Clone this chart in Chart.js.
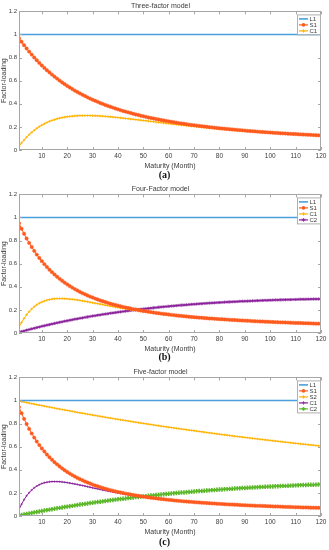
<!DOCTYPE html>
<html>
<head>
<meta charset="utf-8">
<script src="https://cdn.jsdelivr.net/npm/chart.js@4.4.1/dist/chart.umd.min.js"></script>
<style>
  body { margin: 0; background: #fff; }
  #wrap { position: relative; width: 329px; height: 550px; }
  canvas { position: absolute; left: 0; }
  .tag { position: absolute; left: 0; width: 329px; text-align: center;
         font: bold 10px "Liberation Serif", serif; color: #111; }
</style>
</head>
<body>
<div id="wrap">
  <canvas id="chartA" width="329" height="170" style="top:0px"></canvas>
  <div class="tag" style="top:169px">(a)</div>
  <canvas id="chartB" width="329" height="170" style="top:183px"></canvas>
  <div class="tag" style="top:351px">(b)</div>
  <canvas id="chartC" width="329" height="170" style="top:366px"></canvas>
  <div class="tag" style="top:536px">(c)</div>
</div>
<script>
// maturities 1..120 months
const months = Array.from({ length: 120 }, (_, i) => i + 1);
const xTicks = [10, 20, 30, 40, 50, 60, 70, 80, 90, 100, 110, 120];
const yTicks = [0, 0.2, 0.4, 0.6, 0.8, 1, 1.2];

// level factor, flat at 1 from month 1 to 120
const levelMonths = [1, 120];
const levelValues = [1, 1];

// (a) three-factor model
const s1a = [0.968,0.937,0.907,0.879,0.852,0.826,0.801,0.777,0.754,0.732,
0.711,0.691,0.672,0.653,0.635,0.618,0.601,0.585,0.570,0.555,
0.541,0.528,0.514,0.502,0.490,0.478,0.467,0.456,0.445,0.435,
0.426,0.417,0.407,0.399,0.390,0.382,0.374,0.367,0.359,0.352,
0.345,0.338,0.332,0.326,0.320,0.314,0.308,0.303,0.297,0.292,
0.287,0.282,0.277,0.273,0.268,0.264,0.260,0.256,0.252,0.248,
0.244,0.240,0.237,0.233,0.230,0.227,0.223,0.220,0.217,0.214,
0.211,0.209,0.206,0.203,0.201,0.198,0.196,0.193,0.191,0.188,
0.186,0.184,0.182,0.180,0.178,0.176,0.174,0.172,0.170,0.168,
0.166,0.164,0.163,0.161,0.159,0.157,0.156,0.154,0.153,0.151,
0.150,0.148,0.147,0.145,0.144,0.143,0.141,0.140,0.139,0.138,
0.136,0.135,0.134,0.133,0.132,0.131,0.129,0.128,0.127,0.126];
const c1a = [0.032,0.061,0.087,0.111,0.133,0.153,0.171,0.187,0.202,0.215,
0.227,0.238,0.248,0.256,0.263,0.270,0.276,0.280,0.284,0.288,
0.291,0.293,0.295,0.296,0.298,0.298,0.298,0.298,0.298,0.297,
0.296,0.296,0.294,0.293,0.291,0.289,0.287,0.285,0.283,0.281,
0.278,0.276,0.273,0.271,0.268,0.266,0.263,0.261,0.258,0.255,
0.253,0.250,0.247,0.245,0.242,0.239,0.237,0.234,0.231,0.229,
0.226,0.224,0.221,0.219,0.216,0.214,0.211,0.209,0.207,0.205,
0.202,0.200,0.198,0.196,0.193,0.191,0.189,0.187,0.185,0.183,
0.181,0.179,0.178,0.176,0.174,0.172,0.171,0.169,0.167,0.166,
0.164,0.162,0.160,0.159,0.157,0.156,0.154,0.153,0.151,0.150,
0.148,0.147,0.146,0.144,0.143,0.142,0.141,0.139,0.138,0.137,
0.136,0.135,0.134,0.132,0.131,0.130,0.129,0.128,0.127,0.126];

// (b) four-factor model
const s1b = [0.950,0.903,0.859,0.818,0.780,0.744,0.711,0.679,0.650,0.622,
0.596,0.571,0.548,0.527,0.506,0.487,0.469,0.452,0.436,0.421,
0.406,0.393,0.380,0.368,0.356,0.345,0.335,0.325,0.315,0.307,
0.298,0.290,0.282,0.275,0.268,0.261,0.254,0.248,0.242,0.237,
0.231,0.226,0.221,0.216,0.212,0.207,0.203,0.199,0.195,0.191,
0.188,0.184,0.181,0.177,0.174,0.171,0.168,0.165,0.163,0.160,
0.157,0.155,0.152,0.150,0.148,0.145,0.143,0.141,0.139,0.137,
0.135,0.133,0.132,0.130,0.128,0.126,0.125,0.123,0.122,0.120,
0.119,0.117,0.116,0.114,0.113,0.112,0.111,0.109,0.108,0.107,
0.106,0.105,0.103,0.102,0.101,0.100,0.099,0.098,0.097,0.096,
0.095,0.094,0.093,0.092,0.092,0.091,0.090,0.089,0.088,0.087,
0.087,0.086,0.085,0.084,0.084,0.083,0.082,0.081,0.081,0.080];
const c1b = [0.049,0.091,0.127,0.158,0.185,0.208,0.228,0.244,0.258,0.268,
0.277,0.284,0.289,0.294,0.296,0.298,0.298,0.298,0.297,0.296,
0.293,0.292,0.289,0.286,0.282,0.278,0.275,0.271,0.266,0.262,
0.258,0.254,0.250,0.246,0.241,0.237,0.233,0.229,0.225,0.221,
0.217,0.213,0.210,0.206,0.202,0.199,0.196,0.192,0.189,0.186,
0.183,0.180,0.177,0.174,0.171,0.168,0.166,0.163,0.160,0.158,
0.156,0.153,0.151,0.149,0.146,0.144,0.142,0.140,0.138,0.136,
0.135,0.133,0.131,0.129,0.128,0.126,0.124,0.123,0.121,0.120,
0.118,0.117,0.116,0.114,0.113,0.112,0.110,0.109,0.108,0.107,
0.106,0.104,0.103,0.102,0.101,0.100,0.099,0.098,0.097,0.096,
0.095,0.094,0.093,0.092,0.092,0.091,0.090,0.089,0.088,0.087,
0.087,0.086,0.085,0.084,0.084,0.083,0.082,0.081,0.081,0.080];
const c2b = [0.006,0.012,0.018,0.024,0.030,0.036,0.041,0.047,0.052,0.058,
0.063,0.068,0.073,0.078,0.083,0.088,0.092,0.097,0.102,0.106,
0.110,0.115,0.119,0.123,0.127,0.131,0.135,0.139,0.143,0.147,
0.150,0.154,0.157,0.161,0.164,0.167,0.171,0.174,0.177,0.180,
0.183,0.186,0.189,0.192,0.195,0.198,0.200,0.203,0.206,0.208,
0.211,0.213,0.215,0.218,0.220,0.223,0.225,0.227,0.229,0.231,
0.233,0.235,0.237,0.239,0.241,0.242,0.244,0.246,0.248,0.249,
0.251,0.253,0.254,0.256,0.257,0.259,0.260,0.261,0.263,0.264,
0.265,0.267,0.268,0.269,0.270,0.271,0.272,0.274,0.275,0.275,
0.276,0.277,0.278,0.279,0.280,0.281,0.282,0.283,0.283,0.284,
0.285,0.286,0.286,0.287,0.288,0.288,0.289,0.289,0.290,0.290,
0.291,0.292,0.292,0.292,0.293,0.293,0.294,0.294,0.294,0.295];

// (c) five-factor model
const s1c = [0.943,0.890,0.841,0.796,0.754,0.715,0.679,0.645,0.614,0.585,
0.558,0.532,0.509,0.487,0.466,0.447,0.429,0.412,0.396,0.381,
0.367,0.354,0.342,0.330,0.319,0.309,0.299,0.290,0.281,0.272,
0.264,0.257,0.250,0.243,0.236,0.230,0.224,0.219,0.213,0.208,
0.203,0.199,0.194,0.190,0.186,0.182,0.178,0.175,0.171,0.168,
0.164,0.161,0.158,0.155,0.153,0.150,0.147,0.145,0.142,0.140,
0.138,0.135,0.133,0.131,0.129,0.127,0.125,0.124,0.122,0.120,
0.118,0.117,0.115,0.114,0.112,0.111,0.109,0.108,0.106,0.105,
0.104,0.102,0.101,0.100,0.099,0.098,0.097,0.095,0.094,0.093,
0.092,0.091,0.090,0.089,0.088,0.088,0.087,0.086,0.085,0.084,
0.083,0.082,0.082,0.081,0.080,0.079,0.079,0.078,0.077,0.076,
0.076,0.075,0.074,0.074,0.073,0.072,0.072,0.071,0.071,0.070];
const s2c = [0.995,0.991,0.987,0.982,0.978,0.973,0.969,0.964,0.960,0.956,
0.951,0.947,0.943,0.939,0.934,0.930,0.926,0.922,0.918,0.914,
0.910,0.906,0.901,0.897,0.893,0.890,0.886,0.882,0.878,0.874,
0.870,0.866,0.863,0.859,0.855,0.851,0.848,0.844,0.840,0.837,
0.833,0.830,0.826,0.823,0.819,0.815,0.812,0.808,0.805,0.802,
0.798,0.795,0.792,0.788,0.785,0.782,0.778,0.775,0.772,0.769,
0.766,0.762,0.759,0.756,0.753,0.750,0.747,0.744,0.741,0.738,
0.735,0.732,0.729,0.726,0.723,0.720,0.717,0.714,0.711,0.708,
0.705,0.702,0.700,0.697,0.694,0.691,0.688,0.686,0.683,0.680,
0.678,0.675,0.672,0.670,0.667,0.664,0.662,0.659,0.657,0.654,
0.652,0.649,0.647,0.644,0.642,0.639,0.637,0.634,0.632,0.629,
0.627,0.624,0.622,0.620,0.617,0.615,0.613,0.610,0.608,0.606];
const c1c = [0.055,0.102,0.141,0.175,0.202,0.225,0.244,0.259,0.271,0.281,
0.288,0.292,0.296,0.298,0.298,0.298,0.297,0.295,0.292,0.289,
0.285,0.281,0.277,0.273,0.268,0.264,0.259,0.254,0.249,0.244,
0.239,0.235,0.230,0.225,0.221,0.216,0.212,0.208,0.204,0.200,
0.196,0.192,0.188,0.185,0.181,0.178,0.174,0.171,0.168,0.165,
0.162,0.159,0.157,0.154,0.151,0.149,0.146,0.144,0.141,0.139,
0.137,0.135,0.133,0.131,0.129,0.127,0.125,0.123,0.122,0.120,
0.118,0.117,0.115,0.114,0.112,0.111,0.109,0.108,0.106,0.105,
0.104,0.102,0.101,0.100,0.099,0.098,0.097,0.095,0.094,0.093,
0.092,0.091,0.090,0.089,0.088,0.088,0.087,0.086,0.085,0.084,
0.083,0.082,0.082,0.081,0.080,0.079,0.079,0.078,0.077,0.076,
0.076,0.075,0.074,0.074,0.073,0.072,0.072,0.071,0.071,0.070];
const c2c = [0.004,0.009,0.013,0.018,0.022,0.026,0.031,0.035,0.039,0.043,
0.047,0.051,0.055,0.059,0.063,0.067,0.070,0.074,0.078,0.081,
0.085,0.088,0.092,0.095,0.099,0.102,0.105,0.108,0.112,0.115,
0.118,0.121,0.124,0.127,0.130,0.133,0.136,0.139,0.142,0.145,
0.147,0.150,0.152,0.155,0.158,0.160,0.163,0.165,0.168,0.170,
0.172,0.175,0.177,0.179,0.182,0.184,0.186,0.188,0.190,0.192,
0.195,0.197,0.199,0.201,0.203,0.204,0.206,0.208,0.210,0.212,
0.214,0.216,0.217,0.219,0.221,0.222,0.224,0.225,0.227,0.229,
0.230,0.232,0.233,0.235,0.236,0.238,0.239,0.240,0.242,0.243,
0.244,0.246,0.247,0.248,0.249,0.251,0.252,0.253,0.254,0.255,
0.256,0.257,0.258,0.260,0.261,0.261,0.262,0.263,0.264,0.265,
0.266,0.267,0.268,0.269,0.270,0.271,0.271,0.272,0.273,0.274];

const BLUE = '#4a9fdc';
const RED = '#ff5a1e';
const YELLOW = '#ffb300';
const PURPLE = '#8a1f9a';
const GREEN = '#5cb82a';
const AXIS = '#a6a6a6';
const TEXT = '#3a3a3a';
const FONT = 'Liberation Sans';

function pts(xs, ys) {
    return xs.map((x, i) => ({ x: x, y: ys[i] }));
}

function levelSet() {
    return { label: 'L1', data: pts(levelMonths, levelValues), borderColor: BLUE,
             backgroundColor: BLUE, borderWidth: 1.6, pointRadius: 0, mark: 'none' };
}

function series(label, values, color, mark, radius, lineW, markW) {
    return {
        label: label,
        data: pts(months, values),
        borderColor: color,
        backgroundColor: color,
        borderWidth: lineW,
        pointStyle: mark === 'dot' ? 'circle' : mark,
        pointRadius: radius,
        pointBorderWidth: markW,
        pointBorderColor: color,
        pointBackgroundColor: color,
        mark: mark
    };
}

// MATLAB style frame with inward ticks on all four sides
const boxPlugin = {
    id: 'boxFrame',
    afterDatasetsDraw(chart) {
        const { ctx, chartArea: a, scales } = chart;
        ctx.save();
        ctx.strokeStyle = AXIS;
        ctx.lineWidth = 1;
        ctx.strokeRect(Math.round(a.left) + 0.5, Math.round(a.top) + 0.5,
                       Math.round(a.right - a.left) - 1, Math.round(a.bottom - a.top) - 1);
        ctx.beginPath();
        xTicks.forEach(v => {
            const px = Math.round(scales.x.getPixelForValue(v)) + 0.5;
            ctx.moveTo(px, a.bottom); ctx.lineTo(px, a.bottom - 3);
            ctx.moveTo(px, a.top); ctx.lineTo(px, a.top + 3);
        });
        yTicks.forEach(v => {
            const py = Math.round(scales.y.getPixelForValue(v)) + 0.5;
            ctx.moveTo(a.left, py); ctx.lineTo(a.left + 3, py);
            ctx.moveTo(a.right, py); ctx.lineTo(a.right - 3, py);
        });
        ctx.stroke();
        ctx.restore();
    }
};

function drawMark(ctx, mark, x, y, r, color) {
    ctx.fillStyle = color;
    ctx.strokeStyle = color;
    if (mark === 'dot' || mark === 'circle') {
        ctx.beginPath(); ctx.arc(x, y, r, 0, Math.PI * 2); ctx.fill();
    } else if (mark === 'cross' || mark === 'star') {
        ctx.beginPath();
        ctx.moveTo(x - r, y); ctx.lineTo(x + r, y);
        ctx.moveTo(x, y - r); ctx.lineTo(x, y + r);
        if (mark === 'star') {
            ctx.moveTo(x - r * 0.7, y - r * 0.7); ctx.lineTo(x + r * 0.7, y + r * 0.7);
            ctx.moveTo(x - r * 0.7, y + r * 0.7); ctx.lineTo(x + r * 0.7, y - r * 0.7);
        }
        ctx.stroke();
    }
}

// legend box in the upper right corner of the axes
const legendPlugin = {
    id: 'boxLegend',
    afterDraw(chart) {
        const { ctx, chartArea: a } = chart;
        const sets = chart.data.datasets;
        const rowH = 6, w = 23;
        const right = a.right - 1, top = a.top + 3;
        const left = right - w, h = sets.length * rowH + 2;
        ctx.save();
        ctx.fillStyle = '#fff';
        ctx.fillRect(left, top, w, h);
        ctx.strokeStyle = '#b0b0b0';
        ctx.lineWidth = 1;
        ctx.strokeRect(left + 0.5, top + 0.5, w, h);
        ctx.font = '6px "' + FONT + '"';
        ctx.textBaseline = 'middle';
        sets.forEach((ds, i) => {
            const cy = top + 1.5 + rowH * i + rowH / 2;
            ctx.strokeStyle = ds.borderColor;
            ctx.lineWidth = Math.max(ds.borderWidth, 1.2);
            ctx.beginPath(); ctx.moveTo(left + 2, cy); ctx.lineTo(left + 11, cy); ctx.stroke();
            ctx.lineWidth = ds.pointBorderWidth || 1;
            if (ds.mark !== 'none') drawMark(ctx, ds.mark, left + 6.5, cy, 1.8, ds.borderColor);
            ctx.fillStyle = TEXT;
            ctx.fillText(ds.label, left + 12.5, cy + 0.5);
        });
        ctx.restore();
    }
};

function makeChart(id, title, datasets) {
    const canvas = document.getElementById(id);
    return new Chart(canvas.getContext('2d'), {
        type: 'line',
        data: { datasets: datasets },
        options: {
            responsive: false,
            animation: false,
            layout: { padding: { left: 0, right: 8, top: 0, bottom: 0 } },
            elements: { line: { tension: 0 } },
            scales: {
                x: {
                    type: 'linear', min: 1, max: 120,
                    grid: { display: false, drawTicks: false },
                    border: { display: false },
                    afterBuildTicks: s => { s.ticks = xTicks.map(v => ({ value: v })); },
                    afterFit: s => { s.height = 20; },
                    ticks: { color: TEXT, font: { family: FONT, size: 6.5 }, padding: 2, maxRotation: 0 },
                    title: { display: true, text: 'Maturity (Month)', color: TEXT,
                             font: { family: FONT, size: 7 }, padding: { top: 0, bottom: 0 } }
                },
                y: {
                    min: 0, max: 1.2,
                    grid: { display: false, drawTicks: false },
                    border: { display: false },
                    afterBuildTicks: s => { s.ticks = yTicks.map(v => ({ value: v })); },
                    afterFit: s => { s.width = 19; },
                    ticks: { color: TEXT, font: { family: FONT, size: 6 }, padding: 2,
                             callback: v => String(v) },
                    title: { display: true, text: 'Factor-loading', color: TEXT,
                             font: { family: FONT, size: 7 }, padding: { top: 0, bottom: 0 } }
                }
            },
            plugins: {
                legend: { display: false },
                tooltip: { enabled: false },
                title: { display: true, text: title, color: TEXT,
                         font: { family: FONT, size: 7, weight: 'normal' },
                         padding: { top: 2, bottom: 1 } }
            }
        },
        plugins: [boxPlugin, legendPlugin]
    });
}

makeChart('chartA', 'Three-factor model', [
    levelSet(),
    series('S1', s1a, RED, 'dot', 1.7, 1, 0.5),
    series('C1', c1a, YELLOW, 'cross', 1.3, 1, 0.8)
]);

makeChart('chartB', 'Four-Factor model', [
    levelSet(),
    series('S1', s1b, RED, 'dot', 1.7, 1, 0.5),
    series('C1', c1b, YELLOW, 'cross', 1.3, 1, 0.8),
    series('C2', c2b, PURPLE, 'star', 1.6, 1, 0.8)
]);

makeChart('chartC', 'Five-factor model', [
    levelSet(),
    series('S1', s1c, RED, 'dot', 1.7, 1, 0.5),
    series('S2', s2c, YELLOW, 'cross', 1.2, 1, 0.8),
    series('C1', c1c, PURPLE, 'cross', 1.1, 1, 0.7),
    series('C2', c2c, GREEN, 'cross', 2.2, 1, 1.6)
]);
</script>
</body>
</html>
